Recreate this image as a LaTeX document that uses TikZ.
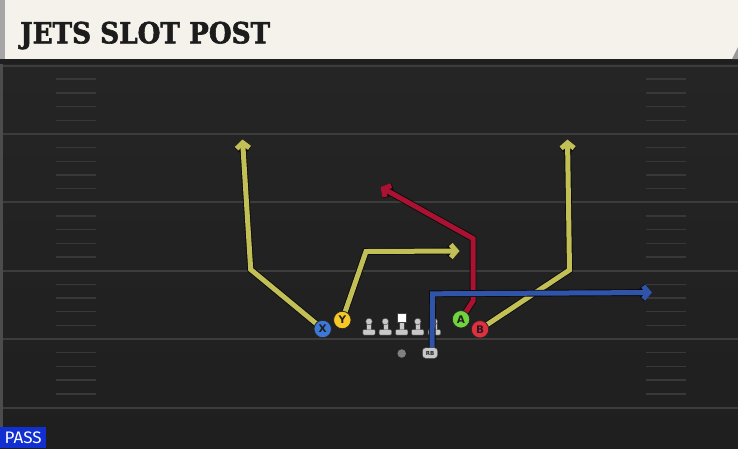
\documentclass[tikz,border=0pt]{standalone}
\usepackage{fontspec}
\usetikzlibrary{arrows.meta}
\newfontfamily\titlefont{DejaVu Serif}[BoldFeatures={FakeBold=2}]
\newfontfamily\labfont{DejaVu Sans}
\newfontfamily\passfont{Fira Sans}
\definecolor{fieldtop}{RGB}{37,37,37}
\definecolor{fieldbot}{RGB}{31,31,31}
\definecolor{yardcol}{RGB}{60,60,60}
\definecolor{hashcol}{RGB}{56,56,56}
\definecolor{cream}{RGB}{245,242,235}
\definecolor{titlecol}{RGB}{28,28,28}
\definecolor{passblue}{RGB}{18,48,210}
\definecolor{routeyel}{RGB}{193,191,86}
\definecolor{routered}{RGB}{170,18,50}
\definecolor{routeblue}{RGB}{48,84,170}
\definecolor{routeedge}{RGB}{12,12,12}
\definecolor{xblue}{RGB}{60,120,212}
\definecolor{yyel}{RGB}{245,200,40}
\definecolor{agreen}{RGB}{112,212,62}
\definecolor{bred}{RGB}{226,46,62}
\definecolor{lmgray}{RGB}{200,200,200}
\definecolor{qbgray}{RGB}{128,128,128}
\tikzset{
  yardline/.style={draw=yardcol, line width=2pt},
  hashmark/.style={draw=hashcol, line width=1.4pt},
  route/.style={draw=#1, line width=5pt, -{Straight Barb[length=5.5pt,width=13pt]},
    preaction={draw=routeedge, line width=6.8pt}},
  player/.style={circle, draw=black!85, line width=0.8pt, minimum size=17.5pt, inner sep=0,
    font=\labfont\bfseries\fontsize{10.5}{10.5}\selectfont, text=black!88},
  lmpart/.style={fill=lmgray, draw=black!75, line width=0.4pt},
  lineman/.pic={
    \path[lmpart] (-2.4,-12) rectangle (2.4,-5);
    \path[lmpart, rounded corners=1pt] (-6.2,-5.5) rectangle (6.2,0);
    \path[lmpart] (0,-13.5) circle (3.3);
  },
  centerman/.pic={
    \path[lmpart] (-2.4,-13) rectangle (2.4,-5);
    \path[lmpart, rounded corners=1pt] (-6.2,-5.5) rectangle (6.2,0);
    \path[fill=white, draw=black!75, line width=0.4pt] (-4.3,-21.5) rectangle (4.3,-13);
  }
}
\begin{document}
\begin{tikzpicture}[x=1pt,y=-1pt]
\useasboundingbox (0,0) rectangle (738,448);
% field
\shade[top color=fieldtop, bottom color=fieldbot] (0,59) rectangle (738,448);
\fill[black!70] (0,59) rectangle (2.5,448);
\fill[black!88] (0,59) rectangle (738,64);
\foreach \y in {65.5,133.9,202.3,270.7,339.1,407.5} \draw[yardline] (2.5,\y) -- (738,\y);
\foreach \b in {0,...,4} {
  \foreach \k in {1,...,4} {
    \pgfmathsetmacro{\yy}{65.5+68.4*\b+13.68*\k}
    \draw[hashmark] (56,\yy) -- (96,\yy);
    \draw[hashmark] (646,\yy) -- (686,\yy);
  }
}
% header
\fill[cream] (0,0) rectangle (738,59);
\fill[black!35] (0,0) rectangle (5,59);
\fill[black!40] (738,47) -- (738,59) -- (732,59) -- cycle;
\node[anchor=base west, inner sep=0, text=titlecol] (title) at (20,43.3)
  {\resizebox{250pt}{21.6pt}{\titlefont\bfseries JETS SLOT POST}};
% pass label
\node[fill=passblue, text=white, minimum width=46pt, minimum height=20.5pt, inner sep=0,
  anchor=south west] (pass) at (0,448) {\resizebox{37pt}{11.7pt}{\passfont PASS}};
% positions
\coordinate (Xp) at (322.7,329);
\coordinate (Yp) at (342.3,320);
\coordinate (Ap) at (461,319.3);
\coordinate (Bp) at (480,329.3);
\coordinate (RBp) at (430,353);
\coordinate (xb1) at (250.7,269.5);
\coordinate (xt) at (242.5,139.5);
\coordinate (yb1) at (366,251.5);
\coordinate (yt) at (459.5,251);
\coordinate (ab1) at (473,301);
\coordinate (ab2) at (473,238.5);
\coordinate (at) at (380.5,187);
\coordinate (bb1) at (569.5,270);
\coordinate (bt) at (567.5,139.5);
\coordinate (rbs) at (432,350);
\coordinate (rbb) at (432.6,293.8);
\coordinate (rbt) at (652,292.5);
% routes (under players)
\draw[route=routeyel] (Xp) -- (xb1) -- (xt);
\draw[route=routeyel] (Yp) -- (yb1) -- (yt);
\draw[route=routered] (Ap) -- (ab1) -- (ab2) -- (at);
\draw[route=routeyel] (Bp) -- (bb1) -- (bt);
% offensive line
\pic (lt) at (369,335) {lineman};
\pic (lg) at (385.3,335) {lineman};
\pic (c) at (401.7,335) {centerman};
\pic (rg) at (417.7,335) {lineman};
\pic (rt) at (434.3,335) {lineman};
% RB route over the line
\draw[route=routeblue] (rbs) -- (rbb) -- (rbt);
% players
\node[circle, fill=qbgray, minimum size=8.5pt, inner sep=0] (QB) at (401.7,353.5) {};
\node[fill=lmgray, draw=black!75, line width=0.4pt, rounded corners=3pt, minimum width=15pt,
  minimum height=10.5pt, inner sep=0, font=\labfont\bfseries\fontsize{5.5}{5.5}\selectfont,
  text=black!85] (RB) at (RBp) {RB};
\node[player, fill=xblue] (X) at (Xp) {X};
\node[player, fill=yyel] (Y) at (Yp) {Y};
\node[player, fill=agreen] (A) at (Ap) {A};
\node[player, fill=bred] (B) at (Bp) {B};
\end{tikzpicture}
\end{document}
